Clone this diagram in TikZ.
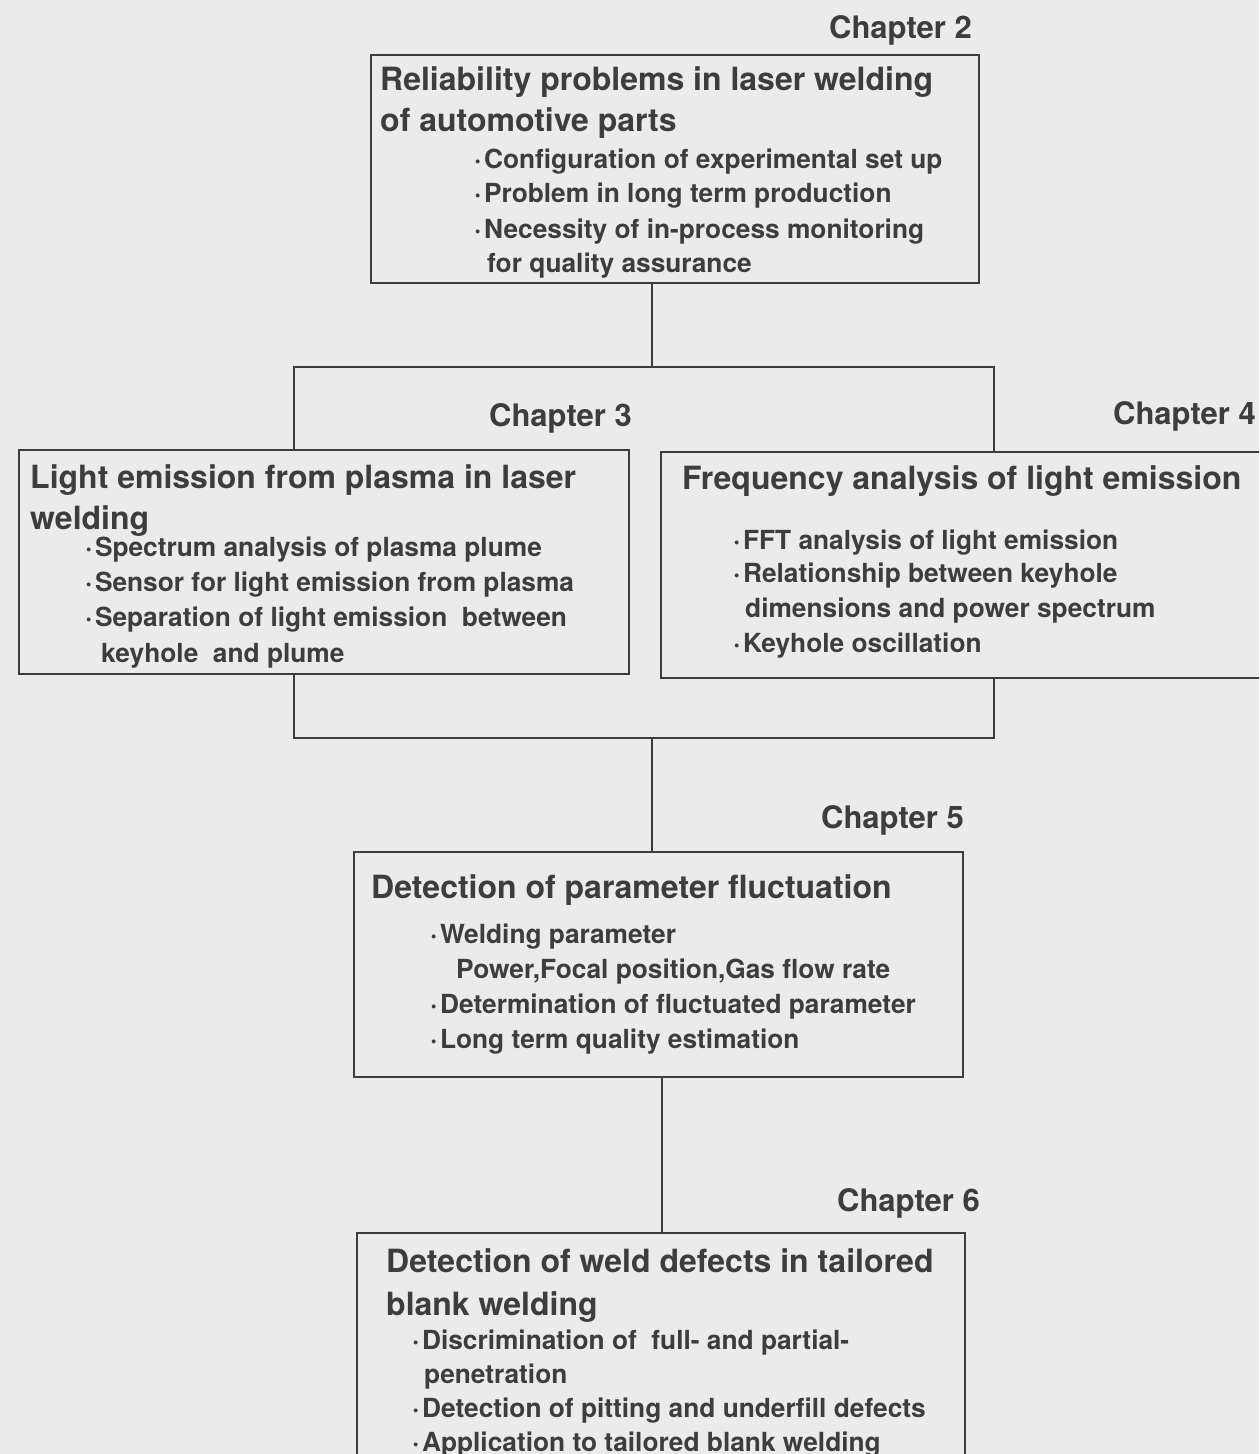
\documentclass[tikz,border=0pt]{standalone}
\usepackage{fontspec}
\setmainfont{TeX Gyre Heros}
\definecolor{bg}{RGB}{236,235,235}
\definecolor{ink}{RGB}{62,60,62}
\begin{document}
\begin{tikzpicture}[x=1pt,y=-1pt,
  box/.style={draw=ink, line width=2pt, anchor=north west, inner sep=0pt, rectangle},
  link/.style={draw=ink, line width=2pt},
  ttl/.style={anchor=west, inner sep=0pt, text=ink, text height=22pt, text depth=0pt,
    font=\fontsize{32}{33}\selectfont\bfseries},
  itm/.style={anchor=west, inner sep=0pt, text=ink, text height=18.5pt, text depth=0pt,
    font=\fontsize{26.3}{27}\selectfont\bfseries},
  chap/.style={anchor=east, inner sep=0pt, text=ink, text height=22pt, text depth=0pt,
    font=\fontsize{31}{32}\selectfont\bfseries}]
\fill[bg] (0,0) rectangle (1259,1454);
\useasboundingbox (0,0) rectangle (1259,1454);
\clip (0,0) rectangle (1259,1454);
\newcommand{\bul}{\textperiodcentered\kern2.5pt}

% boxes
\node[box, minimum width=608pt, minimum height=228pt] (b2) at (370,54) {};
\node[box, minimum width=610pt, minimum height=224pt] (b3) at (18,449) {};
\node[box, minimum width=620pt, minimum height=226pt] (b4) at (660,451) {};
\node[box, minimum width=609pt, minimum height=225pt] (b5) at (353,851) {};
\node[box, minimum width=608pt, minimum height=260pt] (b6) at (356,1232) {};

% chapter labels
\node[chap] (c2) at (972,27) {Chapter 2};
\node[chap] (c3) at (632,415) {Chapter 3};
\node[chap] (c4) at (1256,413) {Chapter 4};
\node[chap] (c5) at (964,817) {Chapter 5};
\node[chap] (c6) at (980,1200) {Chapter 6};

% box 2 texts
\node[ttl] (t2a) at (380,79) {Reliability problems in laser welding};
\node[ttl] (t2b) at (380,120) {of automotive parts};
\node[itm] (i2a) at (474,159) {\bul Configuration of experimental set up};
\node[itm] (i2b) at (474,193) {\bul Problem in long term production};
\node[itm] (i2c) at (474,229) {\bul Necessity of in-process monitoring};
\node[itm] (i2d) at (487,263) {for quality assurance};

% box 3 texts
\node[ttl] (t3a) at (30,477) {Light emission from plasma in laser};
\node[ttl] (t3b) at (30,518) {welding};
\node[itm] (i3a) at (85,547) {\bul Spectrum analysis of plasma plume};
\node[itm] (i3b) at (85,582) {\bul Sensor for light emission from plasma};
\node[itm] (i3c) at (85,617) {\bul Separation of light emission\ \ between};
\node[itm] (i3d) at (101,653) {keyhole\ \ and plume};

% box 4 texts
\node[ttl] (t4a) at (682,478) {Frequency analysis of light emission};
\node[itm] (i4a) at (733,540) {\bul FFT analysis of light emission};
\node[itm] (i4b) at (733,573) {\bul Relationship between keyhole};
\node[itm] (i4c) at (745,608) {dimensions and power spectrum};
\node[itm] (i4d) at (733,643) {\bul Keyhole oscillation};

% box 5 texts
\node[ttl] (t5a) at (371,887) {Detection of parameter fluctuation};
\node[itm] (i5a) at (430,934) {\bul Welding parameter};
\node[itm] (i5b) at (456,969) {Power,Focal position,Gas flow rate};
\node[itm] (i5c) at (430,1004) {\bul Determination of fluctuated parameter};
\node[itm] (i5d) at (430,1039) {\bul Long term quality estimation};

% box 6 texts
\node[ttl] (t6a) at (386,1261) {Detection of weld defects in tailored};
\node[ttl] (t6b) at (386,1304) {blank welding};
\node[itm] (i6a) at (412,1340) {\bul Discrimination of\ \ full- and partial-};
\node[itm] (i6b) at (424,1374) {penetration};
\node[itm] (i6c) at (412,1408) {\bul Detection of pitting and underfill defects};
\node[itm] (i6d) at (412,1442) {\bul Application to tailored blank welding};

% connectors
\coordinate (j1) at (652,367);
\coordinate (jl) at (294,367);
\coordinate (jr) at (994,367);
\coordinate (kl) at (294,738);
\coordinate (kr) at (994,738);
\coordinate (k5) at (652,738);
\coordinate (m5) at (662,1200);
\draw[link] (b2.south -| j1) -- (j1);
\draw[link] (jl |- b3.north) -- (jl) -- (jr) -- (jr |- b4.north);
\draw[link] (b3.south -| kl) -- (kl) -- (kr) -- (b4.south -| kr);
\draw[link] (k5) -- (k5 |- b5.north);
\draw[link] (b5.south -| m5) -- (b6.north -| m5);
\end{tikzpicture}
\end{document}
